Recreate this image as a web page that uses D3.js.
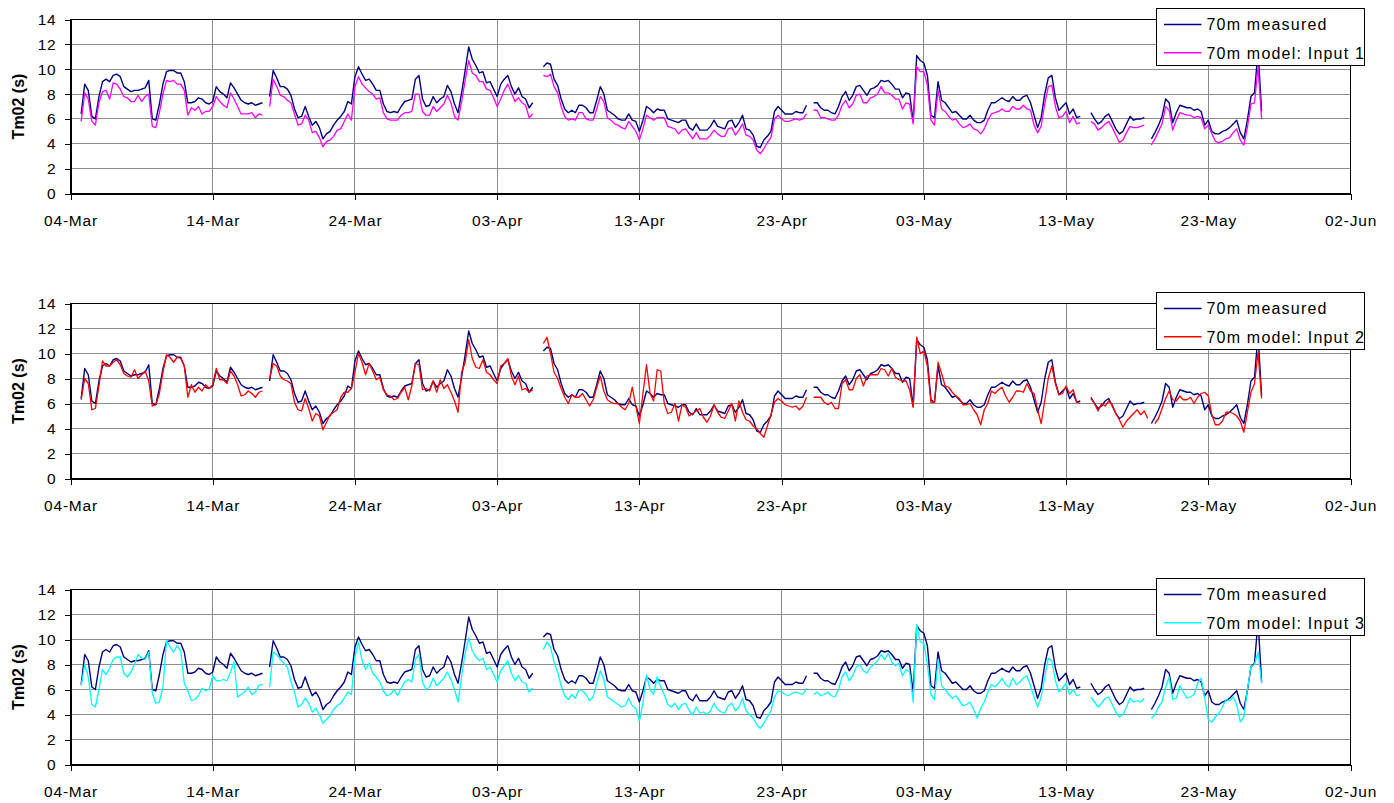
<!DOCTYPE html>
<html>
<head>
<meta charset="utf-8">
<script src="https://cdn.jsdelivr.net/npm/d3@7"></script>
<style>
  html, body { margin: 0; padding: 0; background: #fff; }
  svg { display: block; font-family: "Liberation Sans", Arial, sans-serif; }
</style>
</head>
<body>
<svg id="chart" width="1394" height="803"></svg>
<script>
// Tm02 wave period at 70 m, 6-hourly values (00, 06, 12, 18 h), one group of four per day from 04-Mar.
const measured = [
  null,null,null,6.4, 8.8,8.3,6.2,6.0, 7.8,9.0,9.2,9.0, 9.5,9.6,9.4,8.6, 8.4,8.2,8.3,8.3,
  8.4,8.5,9.1,6.0, 5.9,7.2,8.8,9.8, 9.9,9.9,9.7,9.7, 9.0,7.3,7.3,7.4, 7.7,7.6,7.3,7.2,
  7.4,8.6,8.2,8.0, 7.7,8.9,8.5,8.0, 7.5,7.3,7.2,7.3, 7.1,7.2,7.3,null, 7.8,9.9,9.3,8.6,
  8.6,8.4,7.9,6.8, 6.1,6.2,7.0,6.2, 5.5,5.8,5.3,4.4, 4.8,5.0,5.5,5.9, 6.2,6.6,7.4,7.2,
  9.4,10.2,9.6,9.1, 9.2,8.8,8.3,8.3, 7.2,6.6,6.5,6.6, 6.5,7.0,7.4,7.5, 7.6,9.2,9.5,7.6,
  7.0,7.1,7.8,7.3, 7.6,7.8,8.7,8.2, 7.2,6.5,8.1,9.9, 11.8,10.8,10.3,9.7, 9.8,8.9,9.0,8.4,
  7.8,8.8,9.2,9.5, 8.6,8.0,8.5,7.8, 7.6,6.9,7.3,null, null,10.2,10.5,10.4, 9.2,8.7,7.6,6.8,
  6.5,6.7,6.5,7.1, 7.1,6.9,6.5,6.5, 7.5,8.6,8.0,6.7, 6.5,6.3,6.0,5.9, 5.9,6.4,5.9,5.8,
  5.0,5.9,7.0,6.8, 6.5,6.8,6.7,6.7, 6.0,5.9,5.8,5.7, 5.9,5.9,5.3,5.1, 5.6,5.1,5.1,5.1,
  5.4,5.9,5.4,5.3, 5.2,5.8,5.9,5.3, 5.7,6.3,5.2,5.1, 4.7,3.8,3.7,4.3, 4.6,5.0,6.6,7.0,
  6.7,6.4,6.4,6.4, 6.6,6.5,6.5,7.1, null,7.3,7.3,6.9, 6.7,6.7,6.5,6.4, 7.0,7.8,8.2,7.5,
  7.9,8.6,8.7,8.3, 7.9,8.4,8.5,8.7, 9.1,9.0,9.1,8.8, 8.4,8.4,7.7,8.1, 8.0,5.8,11.1,10.7,
  10.5,9.5,6.3,6.1, 9.0,7.5,7.3,6.9, 6.5,6.6,6.3,6.0, 6.0,6.3,5.9,5.7, 5.7,5.9,6.7,7.3,
  7.3,7.5,7.7,7.5, 7.4,7.8,7.5,7.5, 7.8,7.9,7.3,6.3, 5.3,6.1,8.0,9.3, 9.5,7.7,6.7,7.0,
  7.3,6.4,6.8,6.1, 6.2,null,null,6.5, 6.0,5.6,5.8,6.2, 6.4,5.8,5.2,4.8, 5.0,5.6,6.2,5.9,
  6.0,6.0,6.1,null, 4.4,4.9,5.5,6.2, 7.6,7.3,5.7,6.5, 7.1,7.0,6.9,6.9, 6.7,6.8,6.6,5.5,
  5.9,5.0,4.8,4.8, 5.0,5.1,5.3,5.6, 5.9,4.9,4.4,5.9, 7.8,8.1,11.5,6.6
];

const modelInput1 = [
  null,null,null,5.8, 8.1,7.6,5.8,5.5, 7.3,8.2,8.3,7.6, 8.9,8.8,8.4,7.8, 7.7,7.4,7.4,7.9,
  7.4,7.8,8.0,5.4, 5.3,6.5,8.0,9.1, 9.0,9.1,8.8,8.8, 8.3,6.3,6.9,6.7, 7.0,6.4,6.6,6.6,
  7.0,7.8,7.4,7.1, 6.9,8.1,7.6,7.0, 6.4,6.4,6.4,6.5, 6.1,6.4,6.3,null, 7.0,9.2,8.6,7.9,
  7.8,7.5,7.3,6.4, 5.5,5.6,6.3,5.9, 4.9,5.0,4.5,3.75, 4.2,4.3,4.6,5.1, 5.2,5.8,6.4,5.9,
  8.6,9.4,8.8,8.5, 8.2,8.0,7.6,7.7, 6.5,6.0,5.9,5.9, 5.9,6.3,6.5,6.5, 6.6,8.0,8.0,6.6,
  6.3,6.3,7.0,6.6, 6.9,7.2,7.9,7.3, 6.2,5.9,7.4,9.1, 10.7,9.7,9.5,9.0, 9.0,8.4,8.3,7.7,
  7.0,7.6,8.3,8.8, 8.1,7.4,7.7,7.3, 7.1,6.1,6.4,null, null,9.5,9.4,9.6, 8.6,8.1,7.0,6.2,
  5.9,6.0,5.9,6.5, 6.5,6.0,5.9,5.9, 6.8,7.8,7.4,6.1, 5.9,5.6,5.5,5.3, 5.2,5.8,5.4,5.0,
  4.3,5.2,6.3,6.1, 5.9,6.1,6.1,6.1, 5.4,5.3,5.2,4.8, 5.1,5.2,4.8,4.4, 4.9,4.4,4.4,4.4,
  4.7,5.1,4.8,4.6, 4.6,5.2,5.3,4.7, 5.1,5.6,4.7,4.6, 4.3,3.5,3.2,3.6, 4.1,4.5,6.0,6.3,
  6.0,5.8,5.8,5.9, 6.0,5.9,6.0,6.4, null,6.7,6.7,6.1, 6.1,6.0,5.9,5.9, 6.3,7.1,7.5,6.9,
  7.2,7.9,8.0,7.3, 7.3,7.7,7.8,8.0, 8.6,8.1,8.1,7.9, 7.6,7.6,6.8,7.3, 7.2,5.6,10.2,9.8,
  9.8,8.7,5.9,5.5, 8.3,6.8,6.6,6.2, 5.9,6.0,5.6,5.3, 5.4,5.6,5.2,5.1, 4.8,5.2,5.9,6.4,
  6.5,6.6,6.8,6.6, 6.6,7.0,6.8,6.8, 7.1,6.8,6.7,5.5, 4.9,5.4,7.2,8.6, 8.7,7.0,6.1,6.2,
  6.6,5.7,6.2,5.6, 5.7,null,null,5.8, 5.6,5.1,5.3,5.6, 5.8,5.3,4.7,4.1, 4.3,4.9,5.4,5.3,
  5.3,5.4,5.5,null, 3.9,4.4,5.0,5.6, 7.0,6.7,5.1,5.9, 6.5,6.4,6.3,6.3, 6.1,6.2,6.1,5.2,
  5.5,4.8,4.2,4.1, 4.2,4.4,4.5,4.9, 5.2,4.3,3.9,5.3, 7.2,7.3,10.2,6.0
];

const modelInput2 = [
  null,null,null,6.3, 8.0,7.6,5.5,5.6, 7.4,9.4,9.0,9.0, 9.3,9.5,9.1,8.4, 8.2,8.1,8.7,8.0,
  8.3,8.6,7.8,5.8, 5.9,6.8,8.5,9.9, 9.7,9.3,9.7,9.6, 9.0,6.5,7.5,6.9, 7.3,7.0,7.5,7.2,
  7.5,8.8,7.9,7.9, 7.6,8.6,8.2,7.5, 6.6,6.7,7.0,6.8, 6.5,6.9,7.0,null, 8.0,9.2,9.0,8.2,
  7.9,7.8,7.6,6.1, 5.5,5.4,6.4,5.6, 4.6,5.2,5.0,3.9, 4.5,5.1,5.3,5.5, 6.5,6.9,6.9,7.2,
  8.5,10.0,9.3,8.3, 9.2,8.6,7.9,8.1, 7.1,6.7,6.6,6.3, 6.4,6.9,7.3,6.3, 7.4,9.2,9.1,7.1,
  7.2,7.0,7.8,6.9, 7.9,7.2,7.5,6.9, 6.2,5.3,8.5,9.3, 11.1,9.6,8.9,8.8, 9.5,8.5,8.3,7.9,
  7.6,9.0,9.2,9.6, 8.2,7.5,8.2,7.1, 7.2,6.9,7.1,null, null,10.8,11.3,10.0, 8.5,8.0,7.2,6.5,
  6.0,6.7,6.5,6.5, 6.8,6.3,5.8,6.3, 7.3,8.2,7.0,6.3, 6.1,6.0,6.0,5.7, 5.5,6.0,7.3,5.8,
  4.4,6.8,9.1,6.8, 6.2,8.7,8.6,6.0, 5.2,5.3,6.0,4.6, 5.9,5.7,5.0,5.2, 5.4,5.6,4.9,4.5,
  5.0,5.9,5.3,4.9, 4.8,5.4,6.0,4.6, 6.2,5.3,4.7,4.6, 4.2,4.0,3.6,3.3, 4.2,5.1,6.1,6.4,
  6.2,5.9,5.8,5.7, 5.8,5.5,5.8,6.5, null,6.5,6.5,6.5, 6.1,5.9,6.1,5.6, 5.6,7.6,7.9,7.1,
  7.1,8.0,8.3,7.4, 8.2,8.3,8.3,8.3, 8.8,8.7,8.2,8.8, 8.1,7.9,7.8,7.8, 7.1,5.7,11.3,10.0,
  10.2,9.0,6.1,6.1, 9.3,8.4,7.4,7.3, 6.9,6.6,6.4,5.9, 5.9,6.0,5.5,5.1, 4.3,5.5,6.0,7.0,
  6.8,7.1,7.3,6.6, 6.1,6.5,7.0,7.0, 6.9,7.6,7.0,6.8, 5.5,4.4,6.2,8.0, 9.0,7.6,6.7,6.8,
  7.4,6.8,7.1,6.1, 6.0,null,null,6.4, 6.0,5.4,6.0,5.8, 6.2,5.9,5.2,4.7, 4.1,4.6,4.9,5.2,
  5.5,5.1,5.4,4.8, null,4.4,4.8,5.6, 6.4,7.0,6.3,6.2, 6.6,6.3,6.3,6.5, 6.0,6.5,6.8,6.9,
  6.6,5.1,4.3,4.3, 4.6,5.3,5.3,5.2, 5.0,4.6,3.7,5.3, 6.9,7.6,10.1,6.4
];

const modelInput3 = [
  null,null,null,6.3, 8.0,7.0,4.8,4.6, 6.0,7.6,7.2,7.7, 8.4,8.6,8.6,7.3, 7.0,7.4,8.0,8.8,
  8.5,8.4,9.0,5.7, 4.9,5.0,6.2,9.9, 9.4,9.0,9.5,9.1, 6.5,5.9,5.1,5.2, 5.5,6.1,5.9,6.0,
  7.1,6.7,6.7,6.8, 6.7,7.4,8.2,5.4, 5.6,5.8,6.2,5.6, 5.8,6.35,6.4,null, 6.2,9.0,8.8,8.4,
  8.1,7.8,6.6,5.8, 4.6,4.8,5.3,4.9, 4.2,4.5,4.0,3.3, 3.6,3.9,4.4,4.7, 4.9,5.3,5.8,5.6,
  8.6,9.8,8.3,7.6, 8.1,7.3,7.0,6.6, 5.9,5.5,5.6,6.0, 5.5,6.1,6.6,6.8, 6.6,8.4,8.8,6.6,
  6.0,6.2,6.9,6.3, 6.6,6.9,7.4,6.8, 6.0,5.0,7.0,8.9, 10.1,9.1,8.6,8.3, 8.5,7.6,7.8,7.2,
  6.6,7.5,7.9,8.3, 7.3,6.7,7.1,6.6, 6.5,5.8,6.1,null, null,9.2,9.8,9.4, 8.2,7.4,6.3,5.5,
  5.2,5.6,5.3,6.0, 5.9,5.6,5.1,5.4, 6.5,7.5,6.8,5.4, 5.2,5.0,4.8,4.6, 4.7,5.3,4.7,4.5,
  3.5,4.9,7.2,6.0, 5.6,7.0,6.2,5.6, 4.8,4.6,4.9,4.4, 4.8,4.9,4.3,4.0, 4.6,4.1,4.2,4.0,
  4.3,4.9,4.4,4.2, 4.1,4.7,4.9,4.3, 4.6,5.3,4.3,4.0, 3.7,3.2,2.9,3.3, 3.8,4.3,5.4,5.9,
  5.8,5.6,5.5,5.7, 5.8,5.7,5.6,6.1, null,5.6,5.8,5.5, 5.6,5.8,5.5,5.4, 6.0,7.0,7.4,6.7,
  7.1,7.8,8.0,7.5, 7.3,7.8,8.0,8.3, 8.8,8.4,8.9,8.2, 7.9,8.1,7.1,7.6, 7.4,5.0,11.2,9.8,
  9.7,8.0,5.6,5.2, 8.4,6.3,6.0,5.6, 5.3,5.5,5.1,4.7, 4.8,5.0,4.4,3.7, 4.5,5.0,5.8,6.4,
  6.2,6.5,6.9,6.4, 6.2,6.9,6.4,6.6, 6.9,7.1,6.3,5.4, 4.6,5.4,7.0,8.5, 8.3,6.7,5.8,6.1,
  6.5,5.6,6.0,5.5, 5.6,null,null,5.4, 5.0,4.6,4.9,5.3, 5.4,4.8,4.2,3.8, 4.0,4.6,5.3,5.0,
  5.1,5.0,5.3,null, 3.7,4.0,4.6,5.0, 6.2,7.0,5.2,5.3, 6.3,5.8,5.3,5.4, 5.6,6.5,6.9,5.3,
  3.6,3.4,3.8,4.1, 4.6,5.2,5.1,5.4, 4.8,3.4,3.8,6.0, 7.8,8.0,9.0,6.5
];

const tickLabels = ["04-Mar", "14-Mar", "24-Mar", "03-Apr", "13-Apr", "23-Apr", "03-May", "13-May", "23-May", "02-Jun"];
const yTicks = [0, 2, 4, 6, 8, 10, 12, 14];
const measuredLabel = "70m measured";
const modelLabels = ["70m model: Input 1", "70m model: Input 2", "70m model: Input 3"];
const yTitle = "Tm02 (s)";

const svg = d3.select("#chart");
const font = '"Liberation Sans", Arial, sans-serif';

const startDate = new Date(Date.UTC(2007, 2, 4));
const times = measured.map((_, i) => d3.utcHour.offset(startDate, 6 * i));
const tickDates = tickLabels.map((_, i) => d3.utcDay.offset(startDate, 10 * i));

const x = d3.scaleUtc()
  .domain([tickDates[0], tickDates[tickDates.length - 1]])
  .range([70.5, 1350.5]);

const panels = [
  { top: 19.5,  bottom: 193.5, model: modelInput1, color: "#ff00ff", label: modelLabels[0] },
  { top: 303.5, bottom: 478.5, model: modelInput2, color: "#ff0000", label: modelLabels[1] },
  { top: 589.5, bottom: 764.5, model: modelInput3, color: "#00ffff", label: modelLabels[2] }
];

panels.forEach(p => {
  const y = d3.scaleLinear().domain([0, 14]).range([p.bottom, p.top]);
  const g = svg.append("g");

  // horizontal grid
  g.append("g").selectAll("line")
    .data(yTicks.filter(v => v > 0 && v < 14))
    .join("line")
    .attr("x1", x.range()[0]).attr("x2", x.range()[1])
    .attr("y1", d => y(d)).attr("y2", d => y(d))
    .attr("stroke", "#8c8c8c").attr("stroke-width", 1)
    .attr("shape-rendering", "crispEdges");

  // vertical grid at each date tick
  g.append("g").selectAll("line")
    .data(tickDates.slice(1, -1))
    .join("line")
    .attr("x1", d => x(d)).attr("x2", d => x(d))
    .attr("y1", p.top).attr("y2", p.bottom)
    .attr("stroke", "#8c8c8c").attr("stroke-width", 1)
    .attr("shape-rendering", "crispEdges");

  // plot frame
  g.append("rect")
    .attr("x", x.range()[0]).attr("y", p.top)
    .attr("width", x.range()[1] - x.range()[0])
    .attr("height", p.bottom - p.top)
    .attr("fill", "none").attr("stroke", "#000").attr("stroke-width", 1)
    .attr("shape-rendering", "crispEdges");

  const line = d3.line()
    .defined(v => v != null)
    .x((v, i) => x(times[i]))
    .y(v => y(v));

  g.append("path")
    .attr("d", line(measured))
    .attr("fill", "none").attr("stroke", "#000080")
    .attr("stroke-width", 1.4).attr("stroke-linejoin", "round");

  g.append("path")
    .attr("d", line(p.model))
    .attr("fill", "none").attr("stroke", p.color)
    .attr("stroke-width", 1.3).attr("stroke-linejoin", "round");

  // axes
  const yAxis = d3.axisLeft(y).tickValues(yTicks).tickSize(6).tickPadding(8).tickFormat(d3.format("d"));
  const gy = g.append("g").attr("transform", `translate(${x.range()[0]},0)`).call(yAxis);
  const xAxis = d3.axisBottom(x).tickValues(tickDates).tickSize(6).tickPadding(15)
    .tickFormat((d, i) => tickLabels[i]);
  const gx = g.append("g").attr("transform", `translate(0,${p.bottom})`).call(xAxis);

  [gx, gy].forEach(a => {
    a.select(".domain").attr("stroke", "#000").attr("shape-rendering", "crispEdges");
    a.selectAll(".tick line").attr("stroke", "#000").attr("shape-rendering", "crispEdges");
    a.selectAll("text")
      .attr("fill", "#000")
      .style("font-family", font)
      .style("font-size", "15.5px")
      .style("letter-spacing", "0.8px");
  });

  // y title
  g.append("text")
    .attr("transform", `translate(24,${(p.top + p.bottom) / 2}) rotate(-90)`)
    .attr("text-anchor", "middle")
    .style("font-family", font)
    .style("font-size", "16px")
    .style("font-weight", "bold")
    .text(yTitle);

  // legend
  const lx = 1156.5, ly = p.top - 11.5;
  const lg = g.append("g").attr("transform", `translate(${lx},${ly})`);
  lg.append("rect")
    .attr("width", 207.5).attr("height", 57.5)
    .attr("fill", "#fff").attr("stroke", "#000").attr("stroke-width", 1)
    .attr("shape-rendering", "crispEdges");
  const entries = [
    { text: measuredLabel, color: "#000080" },
    { text: p.label, color: p.color }
  ];
  entries.forEach((e, i) => {
    const ry = 16.5 + i * 28.3;
    lg.append("line")
      .attr("x1", 7.5).attr("x2", 45).attr("y1", ry).attr("y2", ry)
      .attr("stroke", e.color).attr("stroke-width", 1.4);
    lg.append("text")
      .attr("x", 50).attr("y", ry).attr("dy", "0.36em")
      .style("font-family", font)
      .style("font-size", "16px")
      .style("letter-spacing", "1.2px")
      .attr("fill", "#000")
      .text(e.text);
  });
});
</script>
</body>
</html>
